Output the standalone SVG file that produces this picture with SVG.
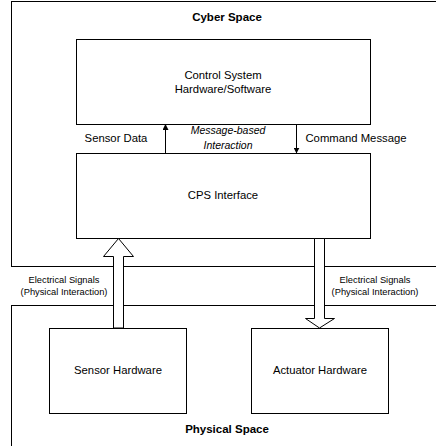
<svg xmlns="http://www.w3.org/2000/svg" width="436" height="446" viewBox="0 0 436 446">
<defs>
<style>
.box{fill:#fff;stroke:#000;stroke-width:1}
.t{font-family:"Liberation Sans",Arial,sans-serif;font-size:11.3px;fill:#000;text-anchor:middle}
.b{font-weight:bold;font-size:11.5px}
.i{font-style:italic;font-size:10.5px}
.s{font-size:9.3px}
.ln{stroke:#000;stroke-width:1;fill:none}
.blk{fill:#fff;stroke:#000;stroke-width:1}
</style>
<marker id="ah" viewBox="0 0 10 10" refX="9" refY="5" markerWidth="6" markerHeight="6" orient="auto" markerUnits="userSpaceOnUse">
<path d="M0,0 L10,5 L0,10 Z" fill="#000"/>
</marker>
</defs>
<rect width="436" height="446" fill="#fff"/>
<g id="cyber-space">
<rect class="box" x="11.5" y="1.5" width="440" height="265"/>
<text class="t b" x="227" y="21">Cyber Space</text>
</g>
<g id="physical-space">
<rect class="box" x="11.5" y="305.5" width="440" height="160"/>
<text class="t b" x="227" y="433">Physical Space</text>
</g>
<g id="control-system">
<rect class="box" x="76.5" y="39.5" width="294" height="85"/>
<text class="t" x="223" y="79">Control System</text>
<text class="t" x="223" y="93">Hardware/Software</text>
</g>
<g id="cps-interface">
<rect class="box" x="76.5" y="153.5" width="294" height="85"/>
<text class="t" x="223" y="199">CPS Interface</text>
</g>
<g id="sensor-hardware">
<rect class="box" x="49.5" y="328.5" width="137" height="85"/>
<text class="t" x="118" y="374">Sensor Hardware</text>
</g>
<g id="actuator-hardware">
<rect class="box" x="251.5" y="328.5" width="137" height="85"/>
<text class="t" x="320" y="374">Actuator Hardware</text>
</g>
<g id="connectors">
<line class="ln" x1="165.5" y1="153" x2="165.5" y2="124.5" marker-end="url(#ah)"/>
<line class="ln" x1="296.5" y1="124.5" x2="296.5" y2="153" marker-end="url(#ah)"/>
<path class="blk" d="M113.5,328 L113.5,256.5 L103.5,256.5 L118.5,238.5 L133.5,256.5 L123.5,256.5 L123.5,328 Z"/>
<path class="blk" d="M314.5,238.5 L314.5,318.5 L305.5,318.5 L319.5,328 L334.5,318.5 L324.5,318.5 L324.5,238.5 Z"/>
<text class="t" x="116" y="142">Sensor Data</text>
<text class="t" x="356" y="142">Command Message</text>
<text class="t i" x="228" y="134">Message-based</text>
<text class="t i" x="228" y="149">Interaction</text>
<text class="t s" x="64" y="283">Electrical Signals</text>
<text class="t s" x="64" y="295">(Physical Interaction)</text>
<text class="t s" x="375" y="283">Electrical Signals</text>
<text class="t s" x="375" y="295">(Physical Interaction)</text>
</g>
</svg>
